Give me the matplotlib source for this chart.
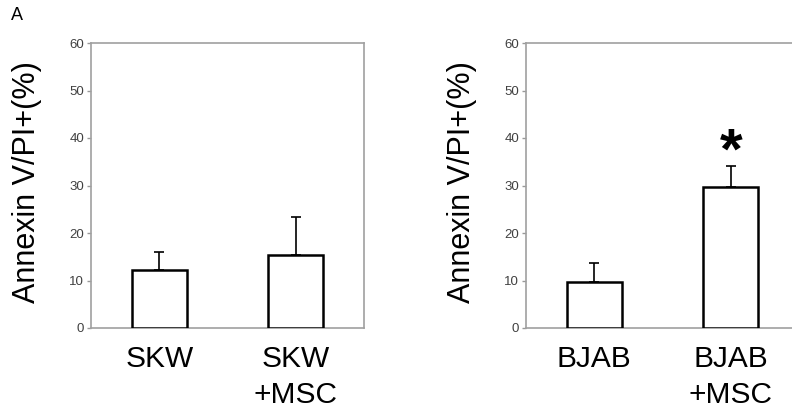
import matplotlib
matplotlib.use("Agg")
import matplotlib.pyplot as plt

plt.rcParams['font.family'] = ['Liberation Sans', 'DejaVu Sans']

left_categories = ["SKW", "SKW\n+MSC"]
left_values = [12.2, 15.4]
left_errors = [3.8, 7.9]

right_categories = ["BJAB", "BJAB\n+MSC"]
right_values = [9.6, 29.6]
right_errors = [4.0, 4.6]

y_ticks = [0, 10, 20, 30, 40, 50, 60]
y_label = "Annexin V/PI+(%)"
panel_letter = "A"
star_text = "*"

fig = plt.figure(figsize=(7.92, 4.13), dpi=100)
W, H = 792, 413

def make_ax(x0px, cats, vals, errs, hide_right=False):
    ax = fig.add_axes([x0px / W, 1 - 328 / H, 273 / W, 285 / H])
    x = list(range(len(cats)))
    ax.bar(x, vals, width=0.40, color='white', edgecolor='black', linewidth=1.8, zorder=3)
    ax.errorbar(x, vals, yerr=[[0] * len(errs), errs], fmt='none', ecolor='black',
                elinewidth=1.2, capsize=3.5, capthick=1.2, zorder=2)
    ax.set_xlim(-0.5, 1.5)
    ax.set_ylim(0, 60)
    ax.set_yticks(y_ticks)
    ax.set_yticklabels([str(t) for t in y_ticks], fontsize=9.5, color='#404040')
    ax.set_xticks(x)
    ax.set_xticklabels(cats, fontsize=21.5, color='black', linespacing=1.4, va='top')
    ax.tick_params(axis='x', length=0, pad=12)
    ax.tick_params(axis='y', length=3, width=1, color='#999999', pad=2)
    for s in ax.spines.values():
        s.set_color('#a0a0a0')
        s.set_linewidth(1.2)
    if hide_right:
        ax.spines['right'].set_visible(False)
    ax.set_ylabel(y_label, fontsize=22)
    ax.yaxis.set_label_coords(-0.18, 0.512)
    return ax

ax1 = make_ax(91, left_categories, left_values, left_errors)
ax2 = make_ax(526, right_categories, right_values, right_errors, hide_right=True)

ax2.text(1, right_values[1] + right_errors[1] - 0.6, star_text, ha='center', va='baseline',
         fontsize=42, fontweight='bold')

fig.text(17 / W, 1 - 16 / H, panel_letter, fontsize=13, ha='center', va='center')

fig.savefig("out.png", dpi=100)
